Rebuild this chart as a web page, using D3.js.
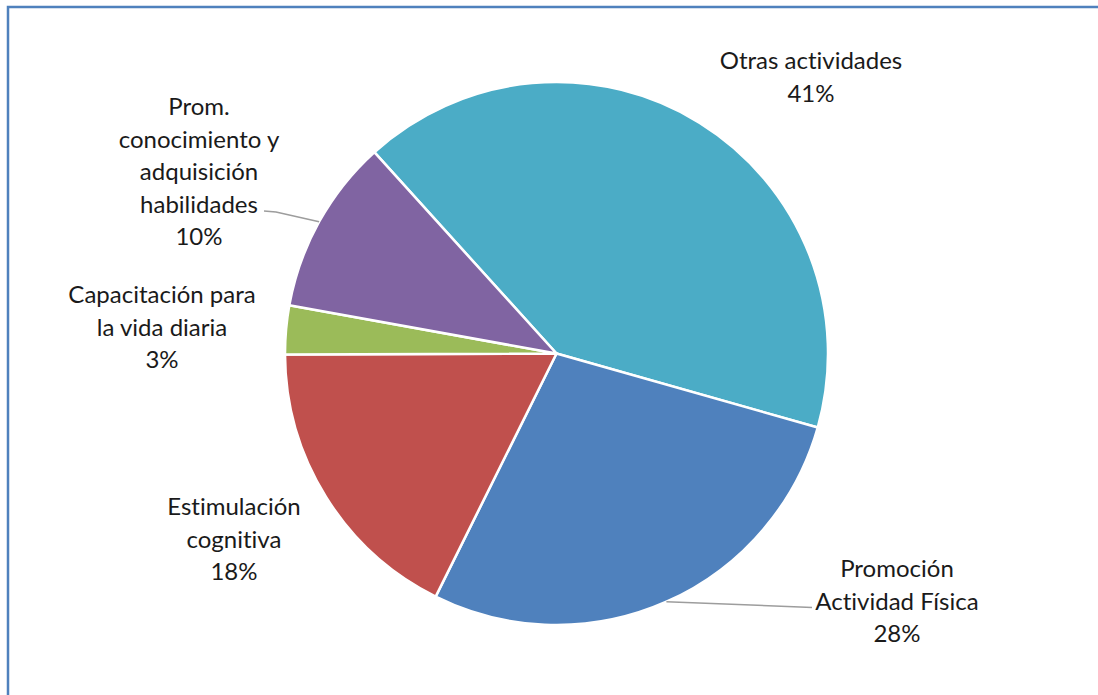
<!DOCTYPE html>
<html>
<head>
<meta charset="utf-8">
<script src="https://cdn.jsdelivr.net/npm/d3@7"></script>
<style type="text/css">
body {
	margin: 0;
	background: #fff;
}
.label {
	font-family: Lato, "Noto Sans", sans-serif;
	font-size: 24px;
	font-variant-ligatures: none;
	fill: #1a1a1a;
}
</style>
</head>
<body>
<svg id="chart" width="1098" height="695"></svg>
<script type="text/javascript">
// slice data, clockwise from the top-left start
var categories = ["Otras actividades", "Promoción Actividad Física", "Estimulación cognitiva", "Capacitación para la vida diaria", "Prom. conocimiento y adquisición habilidades"];
var values = [41.1, 27.95, 17.6, 2.9, 10.45];
var labelLines = [
	["Otras actividades"],
	["Promoción", "Actividad Física"],
	["Estimulación", "cognitiva"],
	["Capacitación para", "la vida diaria"],
	["Prom.", "conocimiento y", "adquisición", "habilidades"]
];
var colors = ["#4BACC6", "#4F81BD", "#C0504D", "#9BBB59", "#8064A2"];

// layout (label anchor = centre x, first baseline y)
var cx = 556.5, cy = 353.5, radius = 271.5;
var lineStep = 32.5;
var labelPos = [[811, 69], [897, 577], [234, 515], [162, 303], [199, 115]];
var leaderEnd = {1: [[800, 607], [812, 607.5]], 4: [[276, 212], [264, 211]]};

var svg = d3.select("#chart");

// chart area frame (only the top and left edges are in view)
svg.append("rect")
	.attr("x", 8).attr("y", 7)
	.attr("width", 1200).attr("height", 800)
	.style("fill", "none").style("stroke", "#4F81BD").style("stroke-width", 2.5);

var start = -42.15 * Math.PI / 180;
var pie = d3.pie().sort(null).value(function(d){return d;})
	.startAngle(start).endAngle(start + 2 * Math.PI);
var arcs = pie(values);
var arc = d3.arc().innerRadius(0).outerRadius(radius);

var g = svg.append("g").attr("transform", "translate(" + cx + "," + cy + ")");
g.selectAll("path.slice").data(arcs).enter().append("path")
	.attr("class", "slice")
	.attr("d", arc)
	.style("fill", function(d, i){return colors[i];})
	.style("stroke", "#fff").style("stroke-width", 2.5).style("stroke-linejoin", "round");

// leader lines from the arc middle to the label
Object.keys(leaderEnd).forEach(function(k){
	var a = arcs[k];
	var mid = (a.startAngle + a.endAngle) / 2;
	var p0 = [cx + radius * Math.sin(mid), cy - radius * Math.cos(mid)];
	var pts = [p0].concat(leaderEnd[k]);
	svg.append("path")
		.attr("d", d3.line()(pts))
		.style("fill", "none").style("stroke", "#9d9d9d").style("stroke-width", 1.5);
});

// data labels
var total = d3.sum(values);
arcs.forEach(function(a, i){
	var lines = labelLines[i].concat([Math.round(a.value / total * 100) + "%"]);
	var t = svg.append("text").attr("class", "label")
		.attr("text-anchor", "middle");
	lines.forEach(function(s, j){
		t.append("tspan")
			.attr("x", labelPos[i][0])
			.attr("y", labelPos[i][1] + j * lineStep)
			.text(s);
	});
});
</script>
</body>
</html>
